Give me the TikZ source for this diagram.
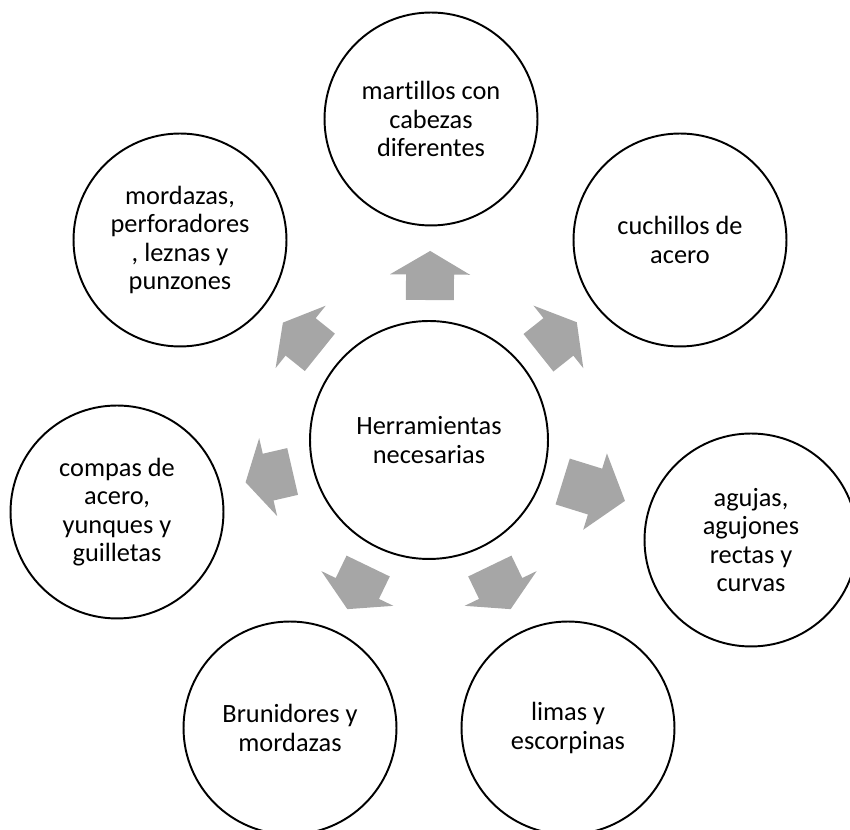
\documentclass[tikz,border=0pt]{standalone}
\usepackage{fontspec}
\setmainfont{Carlito}[Ligatures=NoCommon]
\usepackage{tikz}
\usetikzlibrary{calc}
\definecolor{spokegray}{RGB}{166,166,166}
\tikzset{
    hub circle/.style={
        draw,
        circle,
        line width=1.1pt,
        minimum size=4.76cm,
        inner sep=0,
        align=center,
        font=\fontsize{15}{16.2}\selectfont,
    },
    leaf circle/.style={
        hub circle,
        minimum size=4.26cm,
    },
    spoke arrow/.style={
        fill=spokegray,
    },
}

\begin{document}
\begin{tikzpicture}[x=0.02cm, y=-0.02cm]

    \useasboundingbox (0, 0) rectangle (850, 830);
    \clip (0, 0) rectangle (850, 830);

    \node[hub circle] (hub) at (429, 440) {Herramientas\\necesarias};

    \node[leaf circle] (martillos) at (431, 119) {martillos con\\cabezas\\diferentes};
    \node[leaf circle] (cuchillos) at (680, 240) {cuchillos de\\acero};
    \node[leaf circle] (agujas) at (751, 540) {agujas,\\agujones\\rectas y\\curvas};
    \node[leaf circle] (limas) at (568, 728) {limas y\\escorpinas};
    \node[leaf circle] (brunidores) at (290, 728) {Brunidores y\\mordazas};
    \node[leaf circle] (compas) at (117, 512) {compas de\\acero,\\yunques y\\guilletas};
    \node[leaf circle] (mordazas) at (180, 240) {mordazas,\\perforadores\\, leznas y\\punzones};

    \newcommand\spoke[1]{
        \coordinate (a) at ($(hub.center)!2.8cm!(#1.center)$);
        \coordinate (b) at ($(#1.center)!2.64cm!(hub.center)$);
        \coordinate (h) at ($(b)!0.48!(a)$);
        \fill[spoke arrow] ($(a)!0.48cm!90:(b)$) -- ($(h)!0.48cm!90:(b)$)
            -- ($(h)!0.8cm!90:(b)$) -- (b) -- ($(h)!0.8cm!-90:(b)$)
            -- ($(h)!0.48cm!-90:(b)$) -- ($(a)!0.48cm!-90:(b)$) -- cycle;
    }

    \foreach \leaf in {martillos,cuchillos,agujas,limas,brunidores,compas,mordazas}
    {
        \spoke{\leaf}
    }

\end{tikzpicture}
\end{document}
